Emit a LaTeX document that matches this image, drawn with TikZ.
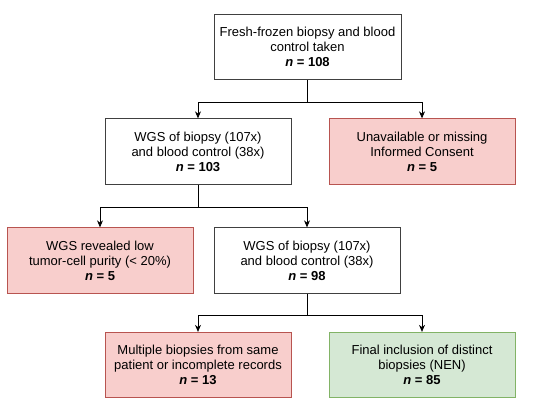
\documentclass[tikz,border=0pt]{standalone}
\usepackage{fontspec}
\setmainfont{Liberation Sans}
\usetikzlibrary{arrows.meta}
\definecolor{redfill}{HTML}{F8CECC}
\definecolor{redline}{HTML}{B85450}
\definecolor{greenfill}{HTML}{D5E8D4}
\definecolor{greenline}{HTML}{82B366}
\begin{document}
\begin{tikzpicture}[x=1pt,y=-1pt,
  box/.style={draw=black!75, line width=0.8pt, minimum width=186pt, minimum height=65.5pt, align=center,
    inner sep=0pt, font=\fontsize{13}{15}\selectfont},
  redbox/.style={box, draw=redline, fill=redfill},
  greenbox/.style={box, draw=greenline, fill=greenfill},
  conn/.style={line width=0.8pt, -{Stealth[length=7pt,width=6pt]}},
  line/.style={line width=0.8pt}]
\useasboundingbox (0,0) rectangle (534,408);
\node[box, minimum width=187pt] (b1) at (307.5,47) {Fresh-frozen biopsy and blood\\control taken\\\textbf{\textit{n} = 108}};
\node[box] (b2) at (198,151.5) {WGS of biopsy (107x)\\and blood control (38x)\\\textbf{\textit{n} = 103}};
\node[redbox] (b3) at (422,151.5) {Unavailable or missing\\Informed Consent\\\textbf{\textit{n} = 5}};
\node[redbox] (b4) at (100,260.5) {WGS revealed low\\tumor-cell purity (< 20\%)\\\textbf{\textit{n} = 5}};
\node[box] (b5) at (307,260.5) {WGS of biopsy (107x)\\and blood control (38x)\\\textbf{\textit{n} = 98}};
\node[redbox] (b6) at (198,365) {Multiple biopsies from same\\patient or incomplete records\\\textbf{\textit{n} = 13}};
\node[greenbox] (b7) at (422,365) {Final inclusion of distinct\\biopsies (NEN)\\\textbf{\textit{n} = 85}};
\coordinate (j1) at (307.5,102);
\coordinate (j2) at (198,207);
\coordinate (j3) at (307,315);
\draw[line] (b1.south) -- (j1);
\draw[conn] (j1) -| (b2.north);
\draw[conn] (j1) -| (b3.north);
\draw[line] (b2.south) -- (j2);
\draw[conn] (j2) -| (b4.north);
\draw[conn] (j2) -| (b5.north);
\draw[line] (b5.south) -- (j3);
\draw[conn] (j3) -| (b6.north);
\draw[conn] (j3) -| (b7.north);
\end{tikzpicture}
\end{document}
